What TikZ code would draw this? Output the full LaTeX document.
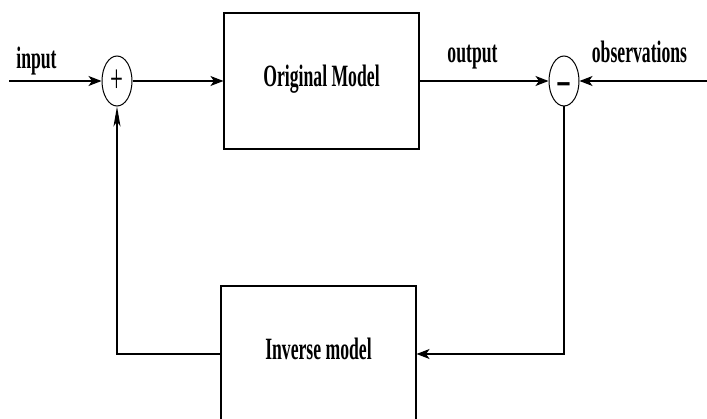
\documentclass[tikz,border=0pt]{standalone}
\usepackage{fontspec}
\setmainfont{Liberation Serif}[FakeStretch=0.57]
\usetikzlibrary{shapes.geometric,arrows.meta}

\begin{document}
\begin{tikzpicture}[x=1pt,y=-1pt,
  line width=1.1pt,
  block/.style={draw, minimum width=195pt, minimum height=136pt, inner sep=0pt,
    font=\bfseries\fontsize{31}{36}\selectfont, text height=22pt, text depth=11pt},
  junction/.style={draw, ellipse, line width=1pt, minimum width=30pt,
    minimum height=50pt, inner sep=0pt},
  sig/.style={font=\bfseries\fontsize{31}{36}\selectfont, inner sep=0pt, anchor=base},
  hor/.style={-{Stealth[length=13pt,width=10pt,inset=3.5pt]}},
  ver/.style={-{Stealth[length=20pt,width=7pt,inset=5pt]}},
]
\useasboundingbox (0,0) rectangle (707,419);
\clip (0,0) rectangle (707,419);

% summing junctions
\node[junction] (plus) at (117,81) {\fontsize{40}{44}\selectfont +};
\node[junction] (minus) at (564,81)
  {\bfseries\fontsize{46}{50}\selectfont\raisebox{-19pt}[0pt][0pt]{−}};

% model blocks
\node[block] (orig) at (321.5,81) {Original Model};
\node[block] (inv) at (318.5,354) {Inverse model};

% open ends of the signal lines
\coordinate (in) at (9,81);
\coordinate (obs) at (707,81);

% signal labels
\node[sig] (inlbl) at (36.5,69) {input};
\node[sig] (outlbl) at (472.5,63) {output};
\node[sig] (obslbl) at (639.5,63) {observations};

% connectors
\draw[hor] (in) -- (plus);
\draw[hor] (plus) -- (orig);
\draw[hor] (orig) -- (minus);
\draw[hor] (obs) -- (minus);
\draw[hor] (minus) |- (inv);
\draw[ver] (inv) -| (plus);
\end{tikzpicture}
\end{document}
